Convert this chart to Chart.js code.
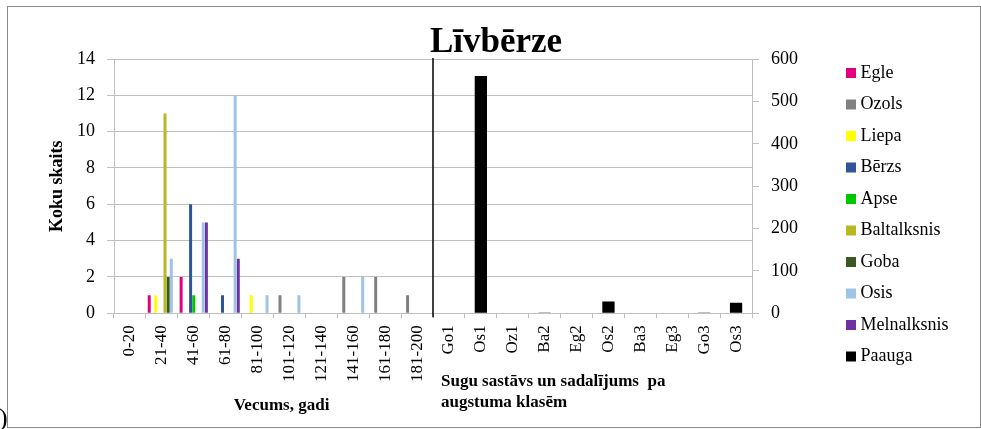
<!DOCTYPE html>
<html>
<head>
<meta charset="utf-8">
<script src="https://cdn.jsdelivr.net/npm/chart.js@4"></script>
<style>
  html, body { margin: 0; padding: 0; background: #fff; }
  #wrap { width: 981px; height: 429px; }
</style>
</head>
<body>
<div id="wrap"><canvas id="chart"></canvas></div>
<script>
// age classes (left part) and species / height classes (right part)
const ageClasses = ["0-20", "21-40", "41-60", "61-80", "81-100", "101-120", "121-140", "141-160", "161-180", "181-200"];
const heightClasses = ["Go1", "Os1", "Oz1", "Ba2", "Eg2", "Os2", "Ba3", "Eg3", "Go3", "Os3"];

// tree counts per age class (left axis)
const egle        = [0, 1, 2, 0, 0, 0, 0, 0, 0, 0, null, null, null, null, null, null, null, null, null, null];
const ozols       = [0, 0, 0, 0, 0, 1, 0, 2, 2, 1, null, null, null, null, null, null, null, null, null, null];
const liepa       = [0, 1, 0, 0, 1, 0, 0, 0, 0, 0, null, null, null, null, null, null, null, null, null, null];
const berzs       = [0, 0, 6, 1, 0, 0, 0, 0, 0, 0, null, null, null, null, null, null, null, null, null, null];
const apse        = [0, 0, 1, 0, 0, 0, 0, 0, 0, 0, null, null, null, null, null, null, null, null, null, null];
const baltalksnis = [0, 11, 0, 0, 0, 0, 0, 0, 0, 0, null, null, null, null, null, null, null, null, null, null];
const goba        = [0, 2, 0, 0, 0, 0, 0, 0, 0, 0, null, null, null, null, null, null, null, null, null, null];
const osis        = [0, 3, 5, 12, 1, 1, 0, 2, 0, 0, null, null, null, null, null, null, null, null, null, null];
const melnalksnis = [0, 0, 5, 3, 0, 0, 0, 0, 0, 0, null, null, null, null, null, null, null, null, null, null];
// undergrowth per species / height class (right axis)
const paauga      = [null, null, null, null, null, null, null, null, null, null, 0, 560, 0, 2, 0, 28, 0, 0, 2, 25];

const leftTicks = [0, 14, 2];
const rightTicks = [0, 600, 100];

const gridGray = "#bfbfbf";
const serif = "'Liberation Serif', 'Times New Roman', serif";
Chart.defaults.font.family = serif;
Chart.defaults.color = "#000";

function series(label, data, color) {
  return {
    label: label,
    data: data,
    backgroundColor: color,
    borderWidth: 0,
    yAxisID: "y",
    categoryPercentage: 0.89,
    barPercentage: 0.95,
  };
}

const extras = {
  id: "extras",
  beforeDraw(chart) {
    const ctx = chart.ctx;
    ctx.save();
    ctx.fillStyle = "#fff";
    ctx.fillRect(0, 0, chart.width, chart.height);
    ctx.strokeStyle = "#8a8a8a";
    ctx.lineWidth = 1;
    ctx.strokeRect(7.5, 6.5, 973, 421);
    ctx.restore();
  },
  afterDraw(chart) {
    const ctx = chart.ctx;
    const x = chart.scales.x;
    const area = chart.chartArea;
    const n = ageClasses.length;
    const split = (x.getPixelForValue(n - 1) + x.getPixelForValue(n)) / 2;
    ctx.save();
    ctx.strokeStyle = "#000";
    ctx.lineWidth = 1.5;
    ctx.beginPath();
    ctx.moveTo(split, area.top - 1);
    ctx.lineTo(split, x.top + 4);
    ctx.stroke();

    ctx.fillStyle = "#000";
    ctx.font = "bold 17px " + serif;
    ctx.textBaseline = "middle";
    ctx.textAlign = "center";
    ctx.fillText("Vecums, gadi", (x.left + split) / 2 + 8, 406);
    ctx.textAlign = "left";
    ctx.fillText("Sugu sastāvs un sadalījums  pa", split + 8, 381.5);
    ctx.fillText("augstuma klasēm", split + 8, 402.5);

    ctx.font = "26px " + serif;
    ctx.textBaseline = "alphabetic";
    ctx.fillText(")", -1, 426);
    ctx.restore();
  },
};

new Chart(document.getElementById("chart"), {
  type: "bar",
  data: {
    labels: ageClasses.concat(heightClasses),
    datasets: [
      series("Egle", egle, "#e0007f"),
      series("Ozols", ozols, "#808080"),
      series("Liepa", liepa, "#ffff00"),
      series("Bērzs", berzs, "#2f5597"),
      series("Apse", apse, "#00c800"),
      series("Baltalksnis", baltalksnis, "#b8b822"),
      series("Goba", goba, "#385723"),
      series("Osis", osis, "#9dc3e6"),
      series("Melnalksnis", melnalksnis, "#7030a0"),
      {
        label: "Paauga",
        data: paauga,
        backgroundColor: "#000",
        borderWidth: 0,
        yAxisID: "y1",
        grouped: false,
        categoryPercentage: 1,
        barPercentage: 0.385,
      },
    ],
  },
  options: {
    responsive: true,
    maintainAspectRatio: false,
    animation: false,
    layout: { padding: { left: 33.5, right: 22.5, top: 0, bottom: 0 } },
    plugins: {
      title: {
        display: true,
        text: "Līvbērze",
        color: "#000",
        font: { size: 35, weight: "bold", lineHeight: 0.6 },
        padding: { top: 23.5, bottom: 6 },
      },
      legend: {
        position: "right",
        align: "start",
        title: { display: true, text: " ", padding: 0, font: { size: 10, lineHeight: "50.5px" } },
        labels: {
          usePointStyle: true,
          pointStyle: "rect",
          boxWidth: 1,
          boxHeight: 10,
          padding: 13.5,
          color: "#000",
          font: { size: 18 },
        },
      },
      tooltip: { enabled: false },
    },
    scales: {
      x: {
        offset: true,
        grid: { offset: true, drawOnChartArea: false, drawTicks: true, tickLength: 5, color: gridGray },
        border: { display: true, color: gridGray },
        ticks: { autoSkip: false, minRotation: 90, maxRotation: 90, padding: 7, color: "#000", font: { size: 17 } },
        afterFit(s) {
          s.height = 115.7;
        },
      },
      y: {
        position: "left",
        min: leftTicks[0],
        max: leftTicks[1],
        ticks: { stepSize: leftTicks[2], padding: 12, color: "#000", font: { size: 18 } },
        grid: { color: gridGray, tickLength: 7 },
        border: { color: gridGray },
        title: {
          display: true,
          text: "Koku skaits",
          color: "#000",
          font: { size: 18, weight: "bold" },
          padding: { top: 12.7, bottom: 0 },
        },
        afterFit(s) {
          s.width = 80.5;
          s.paddingTop = 59;
        },
      },
      y1: {
        position: "right",
        min: rightTicks[0],
        max: rightTicks[1],
        ticks: { stepSize: rightTicks[2], padding: 12, color: "#000", font: { size: 18 } },
        grid: { drawOnChartArea: false, color: gridGray, tickLength: 7 },
        border: { color: gridGray },
        afterFit(s) {
          s.width = 85;
          s.paddingTop = 59;
        },
      },
    },
  },
  plugins: [extras],
});
</script>
</body>
</html>
